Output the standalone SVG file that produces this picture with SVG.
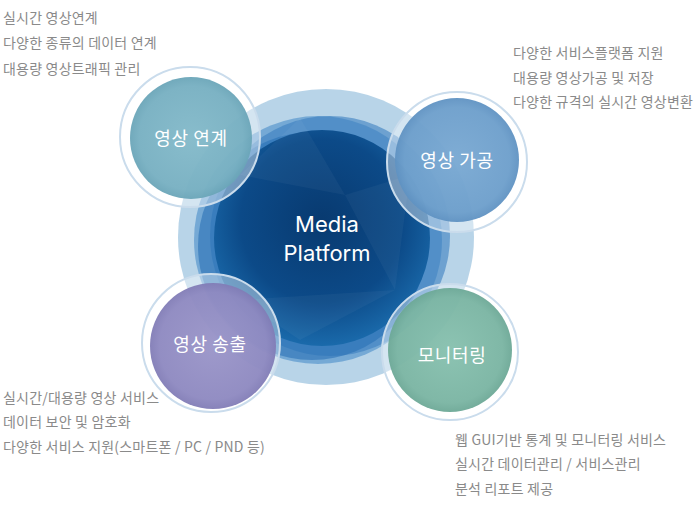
<svg xmlns="http://www.w3.org/2000/svg" width="699" height="512" viewBox="0 0 699 512">
<defs>
<style>
.desc{font-family:"Noto Sans CJK KR","Noto Sans",sans-serif;font-size:14px;letter-spacing:0.2px;fill:#8a8a8a}
.lbl{font-family:"Noto Sans CJK KR","Noto Sans",sans-serif;font-size:18px;letter-spacing:0.6px;fill:#ffffff;text-anchor:middle}
.big{font-family:Inter,"Liberation Sans",sans-serif;font-size:22px;fill:#ffffff;text-anchor:middle}
.ring{fill:#ffffff;fill-opacity:0.4;stroke:#cadcec;stroke-width:2}
</style>
<radialGradient id="core" cx="0.5" cy="0.42" r="0.58">
<stop offset="0" stop-color="#083a70"/>
<stop offset="0.65" stop-color="#0c4a88"/>
<stop offset="1" stop-color="#1a6aab"/>
</radialGradient>
<radialGradient id="gTeal" cx="0.5" cy="0.5" r="0.5">
<stop offset="0" stop-color="#82b9c9"/>
<stop offset="0.85" stop-color="#76afc1"/>
<stop offset="1" stop-color="#6aa5b8"/>
</radialGradient>
<radialGradient id="gBlue" cx="0.5" cy="0.5" r="0.5">
<stop offset="0" stop-color="#78a8d2"/>
<stop offset="0.85" stop-color="#6c9ecb"/>
<stop offset="1" stop-color="#5f92c2"/>
</radialGradient>
<radialGradient id="gPurple" cx="0.5" cy="0.5" r="0.5">
<stop offset="0" stop-color="#9994c8"/>
<stop offset="0.85" stop-color="#8d88c0"/>
<stop offset="1" stop-color="#817cb6"/>
</radialGradient>
<radialGradient id="gGreen" cx="0.5" cy="0.5" r="0.5">
<stop offset="0" stop-color="#86c0ae"/>
<stop offset="0.85" stop-color="#79b4a2"/>
<stop offset="1" stop-color="#6ca896"/>
</radialGradient>
</defs>
<rect width="699" height="512" fill="#ffffff"/>

<g id="media-platform">
<circle cx="326" cy="237" r="148" fill="#b0cfe6" fill-opacity="0.9"/>
<circle cx="318" cy="240" r="124" fill="#5f9bcf" fill-opacity="0.75"/>
<circle cx="330" cy="236" r="120" fill="#3a7fbf" fill-opacity="0.6"/>
<circle cx="312" cy="246" r="114" fill="#2a72b5" fill-opacity="0.6"/>
<circle cx="322" cy="238" r="108" fill="url(#core)"/>
<g fill="#ffffff" fill-opacity="0.04">
<polygon points="240,175 345,195 300,118"/>
<polygon points="345,195 410,175 395,290"/>
<polygon points="240,300 300,340 395,290"/>
</g>
<text x="327" y="232" class="big">Media</text>
<text x="327" y="261" class="big">Platform</text>
</g>

<g id="connect">
<circle cx="190" cy="137" r="70" class="ring"/>
<circle cx="191" cy="138" r="61" fill="url(#gTeal)" fill-opacity="0.95"/>
<text x="191" y="145" class="lbl">영상 연계</text>
</g>

<g id="process">
<circle cx="457" cy="162" r="70" class="ring"/>
<circle cx="457" cy="160" r="62" fill="url(#gBlue)" fill-opacity="0.95"/>
<text x="457" y="167" class="lbl">영상 가공</text>
</g>

<g id="transmit">
<circle cx="211" cy="343" r="69" class="ring"/>
<circle cx="213" cy="346" r="63" fill="url(#gPurple)" fill-opacity="0.95"/>
<text x="210" y="351" class="lbl">영상 송출</text>
</g>

<g id="monitoring">
<circle cx="450" cy="352" r="68" class="ring"/>
<circle cx="450" cy="350" r="62" fill="url(#gGreen)" fill-opacity="0.95"/>
<text x="452" y="362" class="lbl">모니터링</text>
</g>

<g id="connectors"></g>

<g id="texts">
<text x="3" y="23" class="desc">실시간 영상연계</text>
<text x="3" y="48" class="desc">다양한 종류의 데이터 연계</text>
<text x="3" y="74" class="desc">대용량 영상트래픽 관리</text>
<text x="513" y="58" class="desc">다양한 서비스플랫폼 지원</text>
<text x="513" y="83" class="desc">대용량 영상가공 및 저장</text>
<text x="513" y="107" class="desc">다양한 규격의 실시간 영상변환</text>
<text x="3" y="403" class="desc">실시간/대용량 영상 서비스</text>
<text x="3" y="427" class="desc">데이터 보안 및 암호화</text>
<text x="3" y="452" class="desc">다양한 서비스 지원(스마트폰 / PC / PND 등)</text>
<text x="455" y="445" class="desc">웹 GUI기반 통계 및 모니터링 서비스</text>
<text x="455" y="469" class="desc">실시간 데이터관리 / 서비스관리</text>
<text x="455" y="494" class="desc">분석 리포트 제공</text>
</g>
</svg>
